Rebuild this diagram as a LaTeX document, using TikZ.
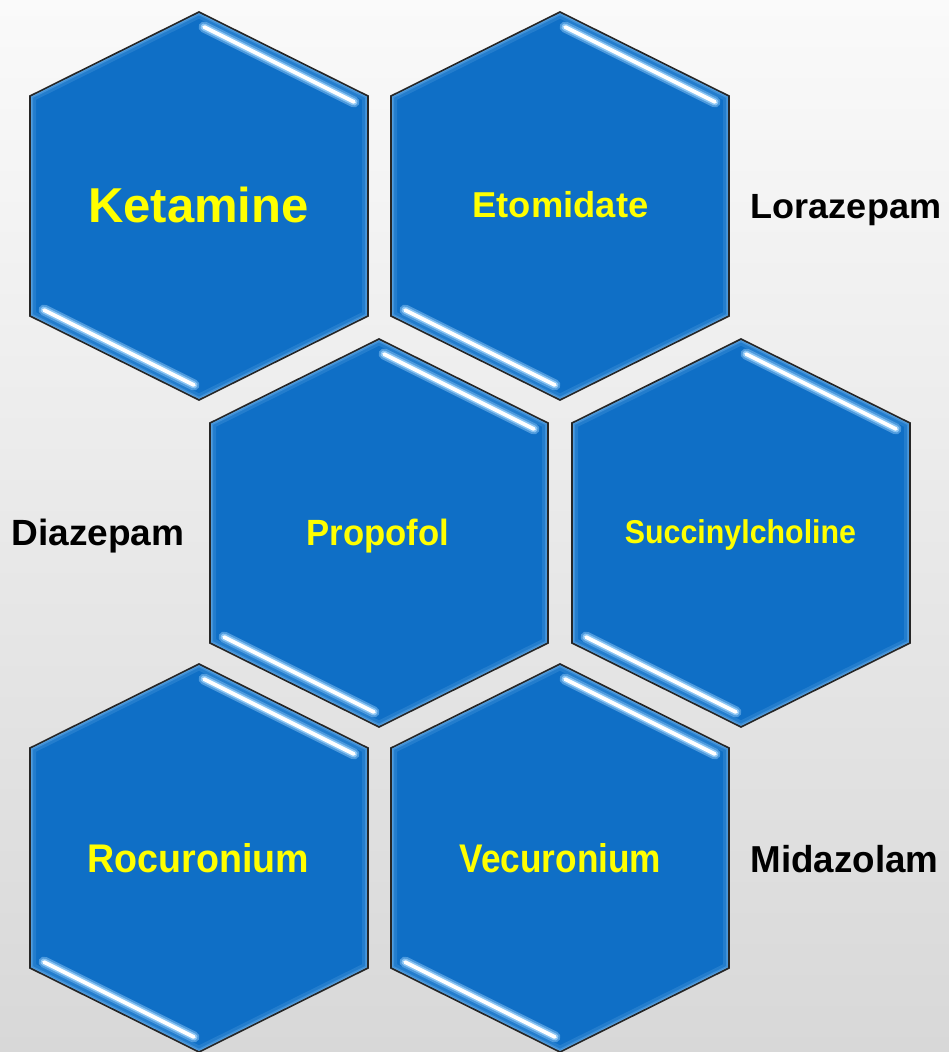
\documentclass[tikz,border=0pt]{standalone}
\usepackage{fontspec}
\setmainfont{Liberation Sans}
\definecolor{bgtop}{HTML}{FAFAFA}
\definecolor{bgbot}{HTML}{D8D8D8}
\definecolor{hexblue}{HTML}{0F6FC6}
\definecolor{hexedge}{HTML}{262626}
\definecolor{glowblue}{HTML}{9AD0FA}
\definecolor{txtyellow}{HTML}{FFFF00}
\tikzset{
  hexp/.style={insert path={(0,-194) -- (169,-110) -- (169,110) -- (0,194) -- (-169,110) -- (-169,-110) -- cycle}},
  hexcell/.pic={
    \fill[hexblue, hexp];
    \begin{scope}
      \clip[hexp];
      \draw[glowblue, opacity=0.15, line width=12pt, hexp];
      \draw[glowblue, opacity=0.25, line width=6pt, hexp];
      \draw[glowblue, opacity=0.30, line width=3pt, hexp];
    \end{scope}
    \draw[hexedge, line width=1.6pt, line join=miter, hexp];
    \draw[glowblue, opacity=0.45, line width=11pt, line cap=round] (5,-179) -- (155,-104);
    \draw[glowblue, opacity=0.8, line width=7pt, line cap=round] (5,-179) -- (155,-104);
    \draw[white, line width=3.8pt, line cap=round] (5,-179) -- (155,-104);
    \draw[glowblue, opacity=0.45, line width=11pt, line cap=round] (-155,104) -- (-5,179);
    \draw[glowblue, opacity=0.8, line width=7pt, line cap=round] (-155,104) -- (-5,179);
    \draw[white, line width=3.8pt, line cap=round] (-155,104) -- (-5,179);
  },
  hexlabel/.style={text=txtyellow, font=\bfseries, inner sep=0pt, anchor=base},
  sidelabel/.style={text=black, font=\bfseries, inner sep=0pt, anchor=base}
}
\newcommand{\fsz}[1]{\fontsize{#1}{#1}\selectfont}
\begin{document}
\begin{tikzpicture}[x=1pt, y=-1pt]
  \useasboundingbox (0,0) rectangle (949,1052);
  \shade[top color=bgtop, bottom color=bgbot] (0,0) rectangle (949,1052);

  \pic (hk) at (199,206) {hexcell};
  \pic (he) at (560,206) {hexcell};
  \pic (hp) at (379,533) {hexcell};
  \pic (hs) at (741,533) {hexcell};
  \pic (hr) at (199,858) {hexcell};
  \pic (hv) at (560,858) {hexcell};

  \node[hexlabel] (ketamine) at (198.5,222) {\fsz{49}Ketamine};
  \node[hexlabel] (etomidate) at (560.5,217) {\fsz{36}\scalebox{1.01}[1]{Etomidate}};
  \node[hexlabel] (propofol) at (378,545) {\fsz{36.5}\scalebox{0.95}[1]{Propofol}};
  \node[hexlabel] (succ) at (740.5,543) {\fsz{33}\scalebox{0.92}[1]{Succinylcholine}};
  \node[hexlabel] (rocuronium) at (198.5,872) {\fsz{40}\scalebox{0.94}[1]{Rocuronium}};
  \node[hexlabel] (vecuronium) at (560.5,872) {\fsz{40}\scalebox{0.88}[1]{Vecuronium}};

  \node[sidelabel] (lorazepam) at (846,218) {\fsz{35}\scalebox{1.03}[1]{Lorazepam}};
  \node[sidelabel] (diazepam) at (98,545) {\fsz{36.5}\scalebox{1.015}[1]{Diazepam}};
  \node[sidelabel] (midazolam) at (844.5,872) {\fsz{37.5}\scalebox{0.98}[1]{Midazolam}};
\end{tikzpicture}
\end{document}
